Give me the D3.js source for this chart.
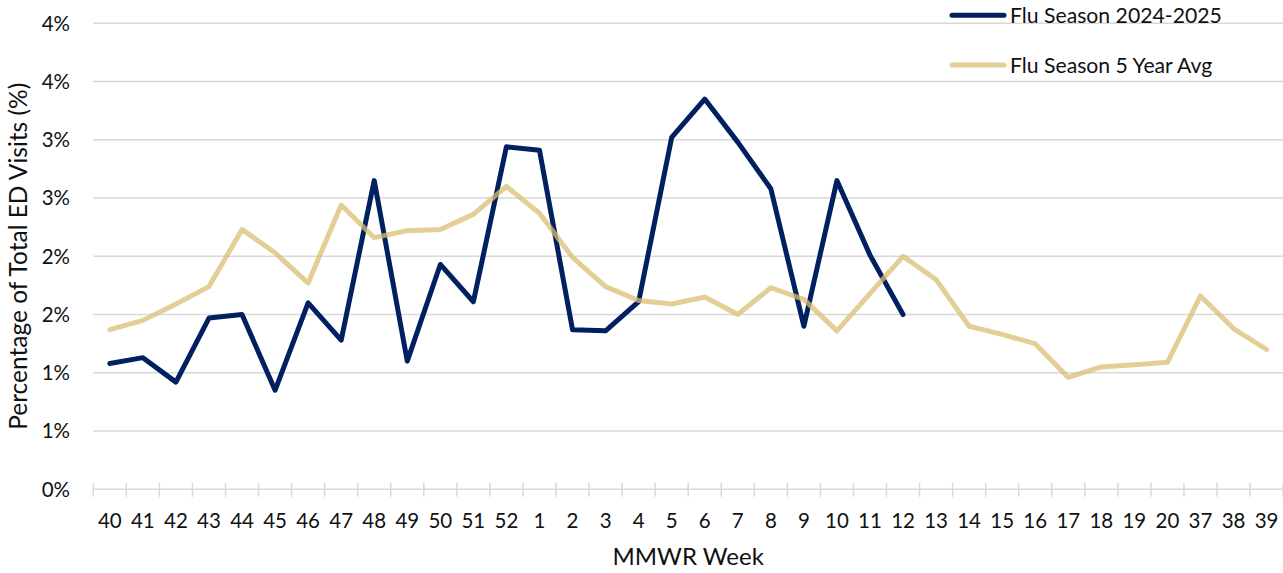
<!DOCTYPE html>
<html>
<head>
<meta charset="utf-8">
<script src="https://cdn.jsdelivr.net/npm/d3@7"></script>
<style>
  html, body { margin: 0; padding: 0; background: #fff; }
  svg { display: block; font-family: Lato, 'Open Sans', sans-serif; }
</style>
</head>
<body>
<div id="chart"></div>
<script>
// MMWR weeks on the x axis
const weeks = ["40","41","42","43","44","45","46","47","48","49","50","51","52",
  "1","2","3","4","5","6","7","8","9","10","11","12","13","14","15","16","17","18","19","20",
  "37","38","39"];

// Flu Season 2024-2025 (% of ED visits), weeks 40 .. 12
const season2425 = [1.08, 1.13, 0.92, 1.47, 1.50, 0.85, 1.60, 1.28, 2.65, 1.10, 1.93, 1.61, 2.94,
  2.91, 1.37, 1.36, 1.61, 3.02, 3.35, 2.98, 2.58, 1.40, 2.65, 2.01, 1.50];

// Flu Season 5 Year Avg, all weeks
const fiveYearAvg = [1.37, 1.45, 1.59, 1.74, 2.23, 2.03, 1.77, 2.44, 2.16, 2.22, 2.23, 2.36, 2.60,
  2.37, 1.99, 1.74, 1.62, 1.59, 1.65, 1.50, 1.73, 1.63, 1.36, 1.68, 2.00, 1.80, 1.40, 1.33, 1.25,
  0.96, 1.05, 1.07, 1.09, 1.66, 1.38, 1.20];

const yTicks = [0, 0.5, 1, 1.5, 2, 2.5, 3, 3.5, 4];
const yTickLabels = ["0%", "1%", "1%", "2%", "2%", "3%", "3%", "4%", "4%"];

const seriesNames = ["Flu Season 2024-2025", "Flu Season 5 Year Avg"];

const width = 1283, height = 573;
const plotLeft = 93.3, plotRight = 1283.1, plotTop = 23.3, plotBottom = 489.3;

const navy = "#002060";
const gold = "#d9bf73";
const grid = "#d9d9d9";
const ink = "#111";

const svg = d3.select("#chart").append("svg")
  .attr("width", width)
  .attr("height", height);

const x = d3.scaleBand().domain(weeks).range([plotLeft, plotRight]);
const y = d3.scaleLinear().domain([0, 4]).range([plotBottom, plotTop]);

// gridlines
svg.append("g")
  .selectAll("line")
  .data(yTicks.filter(d => d > 0))
  .join("line")
  .attr("x1", plotLeft).attr("x2", plotRight)
  .attr("y1", d => y(d)).attr("y2", d => y(d))
  .attr("stroke", grid)
  .attr("stroke-width", 1.5);

// y tick labels
svg.append("g")
  .selectAll("text")
  .data(yTicks)
  .join("text")
  .attr("x", 70)
  .attr("y", d => y(d))
  .attr("dy", "0.36em")
  .attr("text-anchor", "end")
  .attr("font-size", 20.5)
  .attr("fill", ink)
  .text((d, i) => yTickLabels[i]);

// x axis with cross ticks at category boundaries
const xAxis = svg.append("g");
xAxis.append("line")
  .attr("x1", plotLeft).attr("x2", plotRight)
  .attr("y1", plotBottom).attr("y2", plotBottom)
  .attr("stroke", grid).attr("stroke-width", 1.5);

const boundaries = weeks.map(w => x(w)).concat([x(weeks[weeks.length - 1]) + x.bandwidth()]);
xAxis.selectAll(".tick")
  .data(boundaries)
  .join("line")
  .attr("class", "tick")
  .attr("x1", d => d).attr("x2", d => d)
  .attr("y1", plotBottom - 6.5).attr("y2", plotBottom + 7.5)
  .attr("stroke", grid).attr("stroke-width", 1.5);

xAxis.selectAll("text")
  .data(weeks)
  .join("text")
  .attr("x", d => x(d) + x.bandwidth() / 2)
  .attr("y", 528)
  .attr("text-anchor", "middle")
  .attr("font-size", 20.5)
  .attr("fill", ink)
  .text(d => d);

// axis titles
svg.append("text")
  .attr("x", (plotLeft + plotRight) / 2)
  .attr("y", 565)
  .attr("text-anchor", "middle")
  .attr("font-size", 24)
  .attr("fill", ink)
  .text("MMWR Week");

svg.append("text")
  .attr("transform", `translate(27,${(plotTop + plotBottom) / 2}) rotate(-90)`)
  .attr("text-anchor", "middle")
  .attr("font-size", 24.5)
  .attr("fill", ink)
  .text("Percentage of Total ED Visits (%)");

// lines
const line = d3.line()
  .x((d, i) => x(weeks[i]) + x.bandwidth() / 2)
  .y(d => y(d));

svg.append("path")
  .datum(season2425)
  .attr("d", line)
  .attr("fill", "none")
  .attr("stroke", navy)
  .attr("stroke-width", 5)
  .attr("stroke-linejoin", "round")
  .attr("stroke-linecap", "round");

svg.append("path")
  .datum(fiveYearAvg)
  .attr("d", line)
  .attr("fill", "none")
  .attr("stroke", gold)
  .attr("stroke-opacity", 0.75)
  .attr("stroke-width", 5)
  .attr("stroke-linejoin", "round")
  .attr("stroke-linecap", "round");

// legend
const legend = svg.append("g");
const legendColors = [navy, gold];
const legendY = [15.3, 65];

legend.selectAll("line")
  .data(seriesNames)
  .join("line")
  .attr("x1", 952).attr("x2", 1004)
  .attr("y1", (d, i) => legendY[i]).attr("y2", (d, i) => legendY[i])
  .attr("stroke", (d, i) => legendColors[i])
  .attr("stroke-opacity", (d, i) => i === 1 ? 0.75 : 1)
  .attr("stroke-width", 5)
  .attr("stroke-linecap", "round");

legend.selectAll("text")
  .data(seriesNames)
  .join("text")
  .attr("x", 1010)
  .attr("y", (d, i) => legendY[i])
  .attr("dy", "0.36em")
  .attr("font-size", 21.2)
  .attr("fill", ink)
  .text(d => d);
</script>
</body>
</html>
